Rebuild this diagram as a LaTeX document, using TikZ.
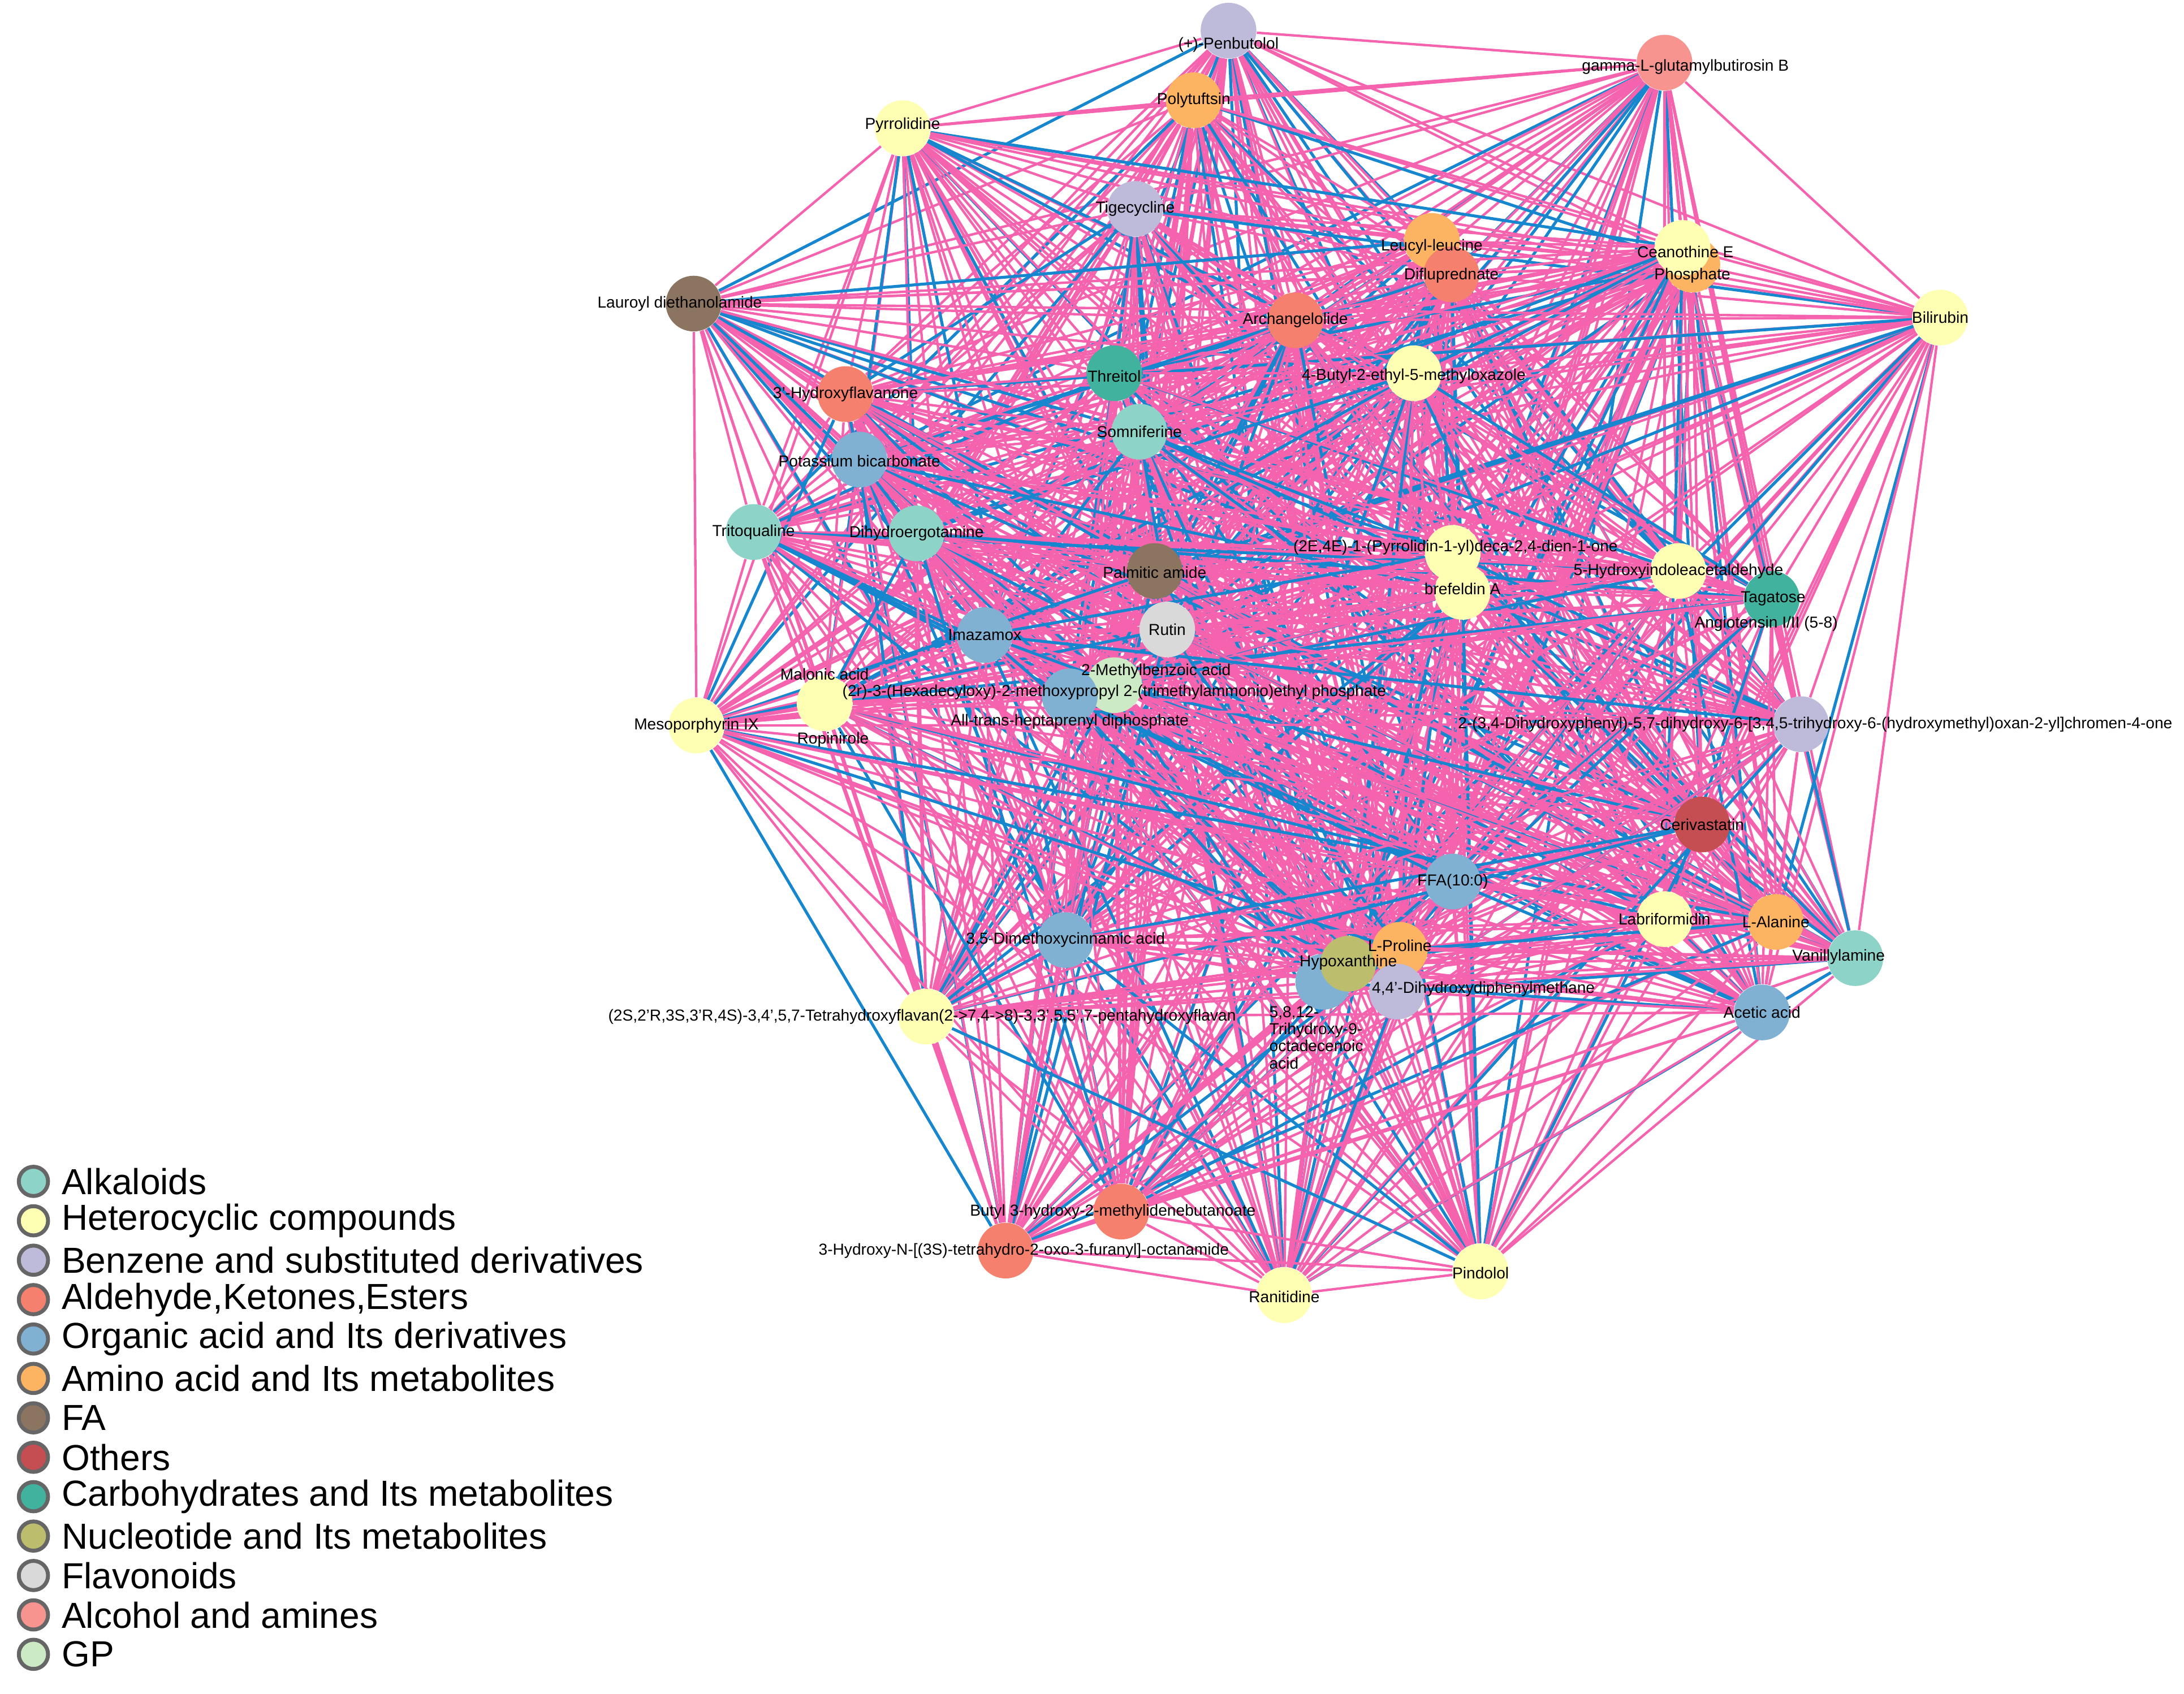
\documentclass[tikz,border=0pt]{standalone}
\usepackage{fontspec}
\setmainfont{Liberation Sans}
\usetikzlibrary{backgrounds}
\definecolor{alk}{HTML}{8DD3C7}
\definecolor{het}{HTML}{FFFFB3}
\definecolor{benz}{HTML}{BEBADA}
\definecolor{ald}{HTML}{F6806E}
\definecolor{org}{HTML}{80B1D3}
\definecolor{amino}{HTML}{FDB462}
\definecolor{fa}{HTML}{8C7560}
\definecolor{oth}{HTML}{C44E52}
\definecolor{carb}{HTML}{41B29E}
\definecolor{nucl}{HTML}{BDBD6E}
\definecolor{flav}{HTML}{D9D9D9}
\definecolor{alc}{HTML}{F7948F}
\definecolor{gp}{HTML}{CCEBC5}
\definecolor{pinkedge}{HTML}{F562AE}
\definecolor{blueedge}{HTML}{1686CF}
\begin{document}
\begin{tikzpicture}
      [   x=0.02cm, y=-0.02cm,
          cnode/.style={fill=#1,draw=none,minimum size=0.8cm,inner sep=0pt,circle},
          lbl/.style={font=\fontsize{6.5}{7}\selectfont,inner sep=0pt},
          leg/.style={fill=#1,draw=gray!80!black,line width=1.6pt,minimum size=0.42cm,inner sep=0pt,circle},
          legtxt/.style={font=\fontsize{14.8}{15}\selectfont,anchor=west,inner sep=0pt},
          pe/.style={pinkedge,line width=1pt},
          be/.style={blueedge,line width=1.2pt},
      ]
          \useasboundingbox (0,0) rectangle (1568,1216);
          % molecules
          \node[cnode=benz] (penb) at (882,22) {};
          \node[cnode=alc] (glut) at (1195,45) {};
          \node[cnode=amino] (poly) at (857,72) {};
          \node[cnode=het] (pyrr) at (648,92) {};
          \node[cnode=benz] (tige) at (815,150) {};
          \node[cnode=amino] (leuc) at (1028,173) {};
          \node[cnode=ald] (difl) at (1042,197) {};
          \node[cnode=amino] (phos) at (1215,190) {};
          \node[cnode=het] (cean) at (1208,178) {};
          \node[cnode=het] (bili) at (1393,228) {};
          \node[cnode=fa] (laur) at (498,218) {};
          \node[cnode=ald] (arch) at (930,230) {};
          \node[cnode=carb] (thre) at (800,268) {};
          \node[cnode=het] (buty) at (1015,268) {};
          \node[cnode=ald] (hflv) at (607,283) {};
          \node[cnode=alk] (somn) at (818,310) {};
          \node[cnode=org] (pota) at (617,330) {};
          \node[cnode=alk] (trit) at (541,382) {};
          \node[cnode=alk] (dihy) at (658,383) {};
          \node[cnode=fa] (palm) at (829,410) {};
          \node[cnode=het] (pyrd) at (1043,397) {};
          \node[cnode=het] (bref) at (1050,425) {};
          \node[cnode=het] (hind) at (1205,410) {};
          \node[cnode=carb] (taga) at (1272,430) {};
          \node[cnode=flav] (ruti) at (838,452) {};
          \node[cnode=org] (imaz) at (707,456) {};
          \node[cnode=gp] (mben) at (800,492) {};
          \node[cnode=org] (hexa) at (768,500) {};
          \node[cnode=het] (malo) at (592,505) {};
          \node[cnode=het] (meso) at (500,521) {};
          \node[cnode=benz] (dhph) at (1293,520) {};
          \node[cnode=oth] (ceri) at (1222,592) {};
          \node[cnode=org] (ffa) at (1043,633) {};
          \node[cnode=het] (labr) at (1195,660) {};
          \node[cnode=amino] (lala) at (1275,662) {};
          \node[cnode=alk] (vani) at (1332,688) {};
          \node[cnode=org] (dmci) at (765,675) {};
          \node[cnode=org] (trih) at (950,705) {};
          \node[cnode=nucl] (hypo) at (968,692) {};
          \node[cnode=amino] (lpro) at (1005,682) {};
          \node[cnode=benz] (ddpm) at (1003,712) {};
          \node[cnode=het] (flvn) at (665,730) {};
          \node[cnode=org] (acet) at (1265,727) {};
          \node[cnode=ald] (bhmb) at (805,870) {};
          \node[cnode=ald] (hnoc) at (722,898) {};
          \node[cnode=het] (rani) at (922,930) {};
          \node[cnode=het] (pind) at (1063,913) {};

          % edges
          \begin{scope}[on background layer]
          \foreach \a [count=\i] in {penb,glut,poly,pyrr,tige,leuc,difl,phos,cean,bili,laur,arch,thre,buty,hflv,somn,pota,trit,dihy,palm,pyrd,bref,hind,taga,ruti,imaz,mben,hexa,malo,meso,dhph,ceri,ffa,labr,lala,vani,dmci,trih,hypo,lpro,ddpm,flvn,acet,bhmb,hnoc,rani,pind}
            \foreach \b [count=\j] in {penb,glut,poly,pyrr,tige,leuc,difl,phos,cean,bili,laur,arch,thre,buty,hflv,somn,pota,trit,dihy,palm,pyrd,bref,hind,taga,ruti,imaz,mben,hexa,malo,meso,dhph,ceri,ffa,labr,lala,vani,dmci,trih,hypo,lpro,ddpm,flvn,acet,bhmb,hnoc,rani,pind}
            {
              \ifnum\j>\i
                \pgfmathtruncatemacro\k{mod(\i*7+\j*3,5)}
                \ifnum\k=0 \draw[be] (\a) -- (\b);
                \else \draw[pe] (\a) -- (\b); \fi
              \fi
            }
          \end{scope}

          % labels
          \node[lbl] at (882,32) {(+)-Penbutolol};
          \node[lbl] at (1210,48) {gamma-L-glutamylbutirosin B};
          \node[lbl] at (857,72) {Polytuftsin};
          \node[lbl] at (648,90) {Pyrrolidine};
          \node[lbl] at (815,150) {Tigecycline};
          \node[lbl] at (1028,177) {Leucyl-leucine};
          \node[lbl] at (1042,198) {Difluprednate};
          \node[lbl] at (1210,181) {Ceanothine E};
          \node[lbl] at (1215,198) {Phosphate};
          \node[lbl] at (1393,228) {Bilirubin};
          \node[lbl] at (488,218) {Lauroyl diethanolamide};
          \node[lbl] at (930,230) {Archangelolide};
          \node[lbl] at (800,270) {Threitol};
          \node[lbl] at (1015,270) {4-Butyl-2-ethyl-5-methyloxazole};
          \node[lbl] at (607,283) {3'-Hydroxyflavanone};
          \node[lbl] at (818,310) {Somniferine};
          \node[lbl] at (617,331) {Potassium bicarbonate};
          \node[lbl] at (541,382) {Tritoqualine};
          \node[lbl] at (658,383) {Dihydroergotamine};
          \node[lbl] at (829,411) {Palmitic amide};
          \node[lbl] at (1045,393) {(2E,4E)-1-(Pyrrolidin-1-yl)deca-2,4-dien-1-one};
          \node[lbl] at (1050,423) {brefeldin A};
          \node[lbl] at (1205,410) {5-Hydroxyindoleacetaldehyde};
          \node[lbl] at (1273,430) {Tagatose};
          \node[lbl] at (1268,448) {Angiotensin I/II (5-8)};
          \node[lbl] at (838,452) {Rutin};
          \node[lbl] at (707,456) {Imazamox};
          \node[lbl] at (830,482) {2-Methylbenzoic acid};
          \node[lbl] at (800,497) {(2r)-3-(Hexadecyloxy)-2-methoxypropyl 2-(trimethylammonio)ethyl phosphate};
          \node[lbl] at (768,518) {All-trans-heptaprenyl diphosphate};
          \node[lbl] at (592,484) {Malonic acid};
          \node[lbl] at (598,531) {Ropinirole};
          \node[lbl] at (500,521) {Mesoporphyrin IX};
          \node[lbl,anchor=east] at (1560,520) {2-(3,4-Dihydroxyphenyl)-5,7-dihydroxy-6-[3,4,5-trihydroxy-6-(hydroxymethyl)oxan-2-yl]chromen-4-one};
          \node[lbl] at (1222,592) {Cerivastatin};
          \node[lbl] at (1043,633) {FFA(10:0)};
          \node[lbl] at (1195,660) {Labriformidin};
          \node[lbl] at (1275,662) {L-Alanine};
          \node[lbl] at (1320,687) {Vanillylamine};
          \node[lbl] at (765,675) {3,5-Dimethoxycinnamic acid};
          \node[lbl] at (1005,679) {L-Proline};
          \node[lbl] at (968,691) {Hypoxanthine};
          \node[lbl] at (1065,710) {4,4'-Dihydroxydiphenylmethane};
          \node[lbl,align=left] at (945,745) {5,8,12-\\Trihydroxy-9-\\octadecenoic\\acid};
          \node[lbl] at (662,730) {(2S,2'R,3S,3'R,4S)-3,4',5,7-Tetrahydroxyflavan(2->7,4->8)-3,3',5,5',7-pentahydroxyflavan};
          \node[lbl] at (1265,727) {Acetic acid};
          \node[lbl] at (799,870) {Butyl 3-hydroxy-2-methylidenebutanoate};
          \node[lbl] at (735,898) {3-Hydroxy-N-[(3S)-tetrahydro-2-oxo-3-furanyl]-octanamide};
          \node[lbl] at (922,931) {Ranitidine};
          \node[lbl] at (1063,914) {Pindolol};

          % legend
          \foreach \c/\t [count=\n] in {alk/Alkaloids,het/Heterocyclic compounds,benz/Benzene and substituted derivatives,ald/{Aldehyde,Ketones,Esters},org/Organic acid and Its derivatives,amino/Amino acid and Its metabolites,fa/FA,oth/Others,carb/Carbohydrates and Its metabolites,nucl/Nucleotide and Its metabolites,flav/Flavonoids,alc/Alcohol and amines,gp/GP}
          {
            \node[leg=\c] (leg\n) at (24,{820+28.3*\n}) {};
            \node[legtxt] (legt\n) at (44,{820+28.3*\n}) {\t};
          }
    \end{tikzpicture}
\end{document}
